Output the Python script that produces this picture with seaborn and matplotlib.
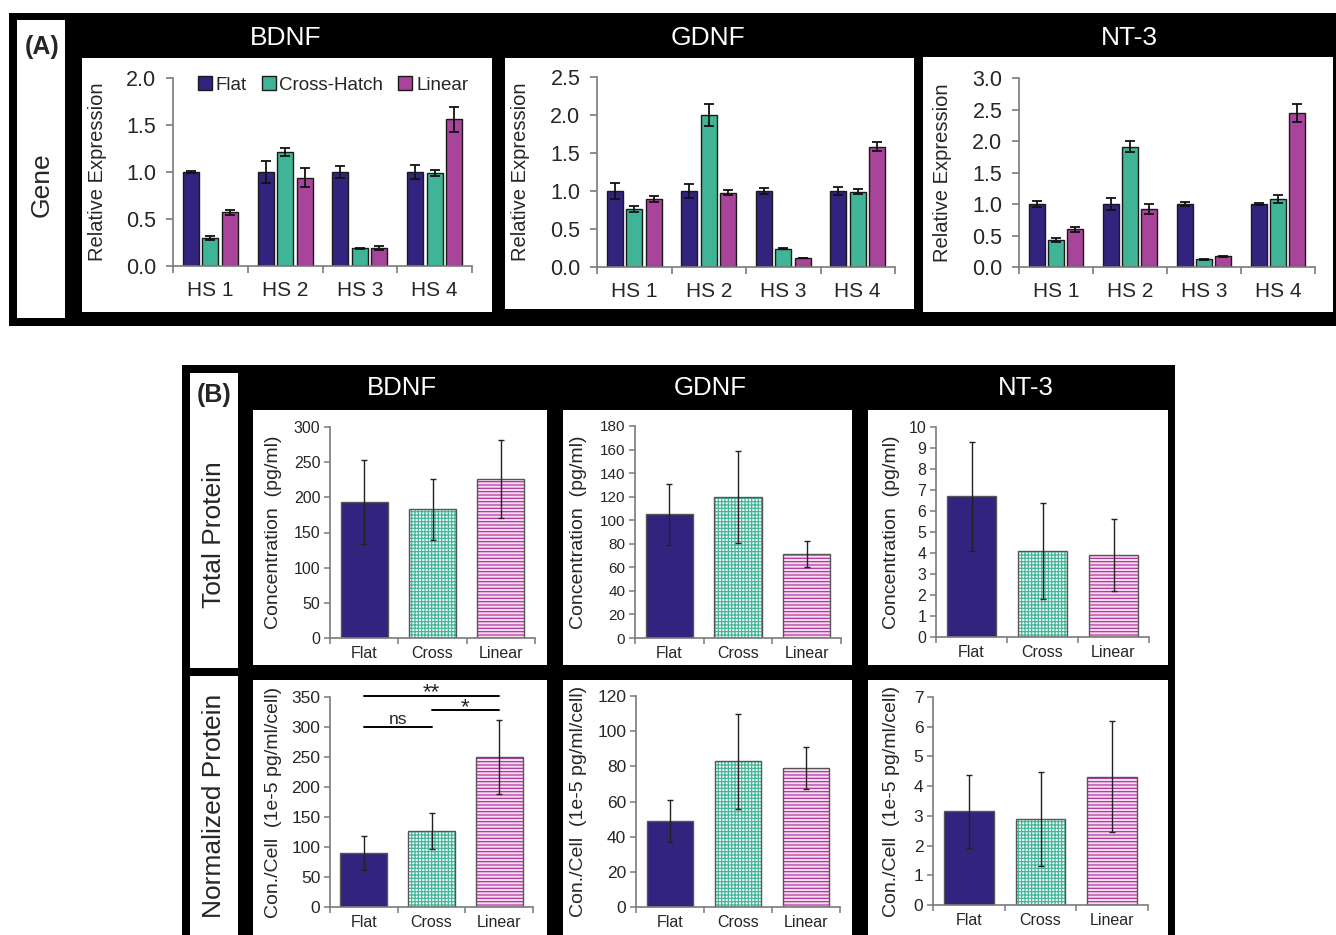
import numpy as np
import pandas as pd
import matplotlib
matplotlib.use("Agg")
import matplotlib.pyplot as plt
import seaborn as sns
from matplotlib.patches import Rectangle

sns.set_style("ticks")
plt.rcParams["font.family"] = ["Liberation Sans", "DejaVu Sans"]
plt.rcParams["hatch.linewidth"] = 0.85

# ---------------- data ----------------
hs_groups = ["HS 1", "HS 2", "HS 3", "HS 4"]
gene_conditions = ["Flat", "Cross-Hatch", "Linear"]
gene_factors = ["BDNF", "GDNF", "NT-3"]

bdnf_gene_flat = [1.00, 1.00, 1.00, 1.00]
bdnf_gene_flat_err = [0.01, 0.12, 0.06, 0.07]
bdnf_gene_cross = [0.30, 1.21, 0.19, 0.99]
bdnf_gene_cross_err = [0.02, 0.04, 0.005, 0.03]
bdnf_gene_linear = [0.57, 0.94, 0.19, 1.56]
bdnf_gene_linear_err = [0.03, 0.10, 0.02, 0.13]

gdnf_gene_flat = [1.00, 1.00, 1.00, 1.00]
gdnf_gene_flat_err = [0.10, 0.09, 0.04, 0.05]
gdnf_gene_cross = [0.76, 2.00, 0.24, 0.99]
gdnf_gene_cross_err = [0.04, 0.14, 0.005, 0.03]
gdnf_gene_linear = [0.90, 0.98, 0.12, 1.58]
gdnf_gene_linear_err = [0.04, 0.03, 0.005, 0.06]

nt3_gene_flat = [1.00, 1.00, 1.00, 1.00]
nt3_gene_flat_err = [0.05, 0.09, 0.03, 0.01]
nt3_gene_cross = [0.43, 1.91, 0.12, 1.08]
nt3_gene_cross_err = [0.03, 0.09, 0.005, 0.07]
nt3_gene_linear = [0.60, 0.92, 0.17, 2.44]
nt3_gene_linear_err = [0.04, 0.08, 0.005, 0.14]

protein_conditions = ["Flat", "Cross", "Linear"]
bdnf_total = [193, 183, 226]
bdnf_total_err = [60, 43, 55]
gdnf_total = [105, 120, 71]
gdnf_total_err = [26, 39, 11]
nt3_total = [6.7, 4.1, 3.9]
nt3_total_err = [2.6, 2.3, 1.7]

bdnf_norm = [90, 127, 250]
bdnf_norm_err = [28, 30, 62]
gdnf_norm = [49, 83, 79]
gdnf_norm_err = [12, 27, 12]
nt3_norm = [3.15, 2.88, 4.32]
nt3_norm_err = [1.22, 1.58, 1.88]

# significance (i, j, label, y) for BDNF normalized
bdnf_sig = [(0, 2, "**", 352), (1, 2, "*", 328), (0, 1, "ns", 300)]

# ---------------- style ----------------
C_FLAT = "#32237f"
C_CROSS = "#3fb497"
C_LIN = "#a8449a"
SPINE = "#7a7a7a"

W, H = 1336, 935
fig = plt.figure(figsize=(W / 100, H / 100), dpi=100)
fig.patch.set_facecolor("white")


def fx(x):
    return x / W


def fy(y):
    return 1 - y / H


def box(x0, y0, x1, y1, color, z=-2):
    fig.add_artist(Rectangle((fx(x0), fy(y1)), (x1 - x0) / W, (y1 - y0) / H,
                             transform=fig.transFigure, facecolor=color,
                             edgecolor="none", zorder=z))


def axes_px(l, t, r, b):
    ax = fig.add_axes([fx(l), fy(b), (r - l) / W, (b - t) / H])
    ax.set_facecolor("none")
    return ax


def style_spines(ax):
    for s in ["top", "right"]:
        ax.spines[s].set_visible(False)
    for s in ["left", "bottom"]:
        ax.spines[s].set_color(SPINE)
        ax.spines[s].set_linewidth(1.2)


# ---------------- backgrounds ----------------
box(9, 13, 1336, 326, "black")
box(17, 20, 65, 318, "white", -1)
box(82, 58, 492, 312, "white", -1)
box(505, 58, 914, 309, "white", -1)
box(923, 57, 1333, 312, "white", -1)

box(182, 365, 1175, 935, "black")
box(190, 373, 238, 668, "white", -1)
box(190, 676, 238, 935, "white", -1)
for (x0, x1) in [(253, 547), (563, 852), (868, 1168)]:
    box(x0, 410, x1, 665, "white", -1)
    box(x0, 680, x1, 935, "white", -1)

# ---------------- texts ----------------
fig.text(fx(42), fy(47), "(A)", fontsize=18, fontweight="bold", ha="center", va="center")
fig.text(fx(42), fy(185), "Gene", fontsize=19, rotation=90, ha="center", va="center")
fig.text(fx(214), fy(395), "(B)", fontsize=18, fontweight="bold", ha="center", va="center")
fig.text(fx(214), fy(535), "Total Protein", fontsize=19, rotation=90, ha="center", va="center")
fig.text(fx(214), fy(806), "Normalized Protein", fontsize=19, rotation=90, ha="center", va="center")
for name, x in zip(gene_factors, [286, 708, 1129]):
    fig.text(fx(x), fy(38), name, fontsize=19, color="white", ha="center", va="center")
for name, x in zip(gene_factors, [402, 710, 1026]):
    fig.text(fx(x), fy(388), name, fontsize=18.5, color="white", ha="center", va="center")

# ---------------- panel A ----------------
gene_sets = [
    ([bdnf_gene_flat, bdnf_gene_cross, bdnf_gene_linear],
     [bdnf_gene_flat_err, bdnf_gene_cross_err, bdnf_gene_linear_err], 2.0, (173, 78, 472, 266), -0.22),
    ([gdnf_gene_flat, gdnf_gene_cross, gdnf_gene_linear],
     [gdnf_gene_flat_err, gdnf_gene_cross_err, gdnf_gene_linear_err], 2.5, (597, 77, 895, 267), -0.225),
    ([nt3_gene_flat, nt3_gene_cross, nt3_gene_linear],
     [nt3_gene_flat_err, nt3_gene_cross_err, nt3_gene_linear_err], 3.0, (1019, 78, 1315, 267), -0.226),
]

for k, (vals, errs, ymax, pos, labx) in enumerate(gene_sets):
    ax = axes_px(*pos)
    rows = []
    for cond, v in zip(gene_conditions, vals):
        for g, val in zip(hs_groups, v):
            rows.append({"group": g, "cond": cond, "value": val})
    df = pd.DataFrame(rows)
    sns.barplot(data=df, x="group", y="value", hue="cond", order=hs_groups,
                hue_order=gene_conditions, palette=[C_FLAT, C_CROSS, C_LIN],
                errorbar=None, width=0.78, gap=0.18, edgecolor="#1a1a1a",
                linewidth=1.0, saturation=1, ax=ax, legend=False)
    for cont, e in zip(ax.containers, errs):
        xs = [p.get_x() + p.get_width() / 2 for p in cont]
        hs = [p.get_height() for p in cont]
        ax.errorbar(xs, hs, yerr=e, fmt="none", ecolor="#111111",
                    elinewidth=1.3, capsize=3.5, capthick=1.3, zorder=5)
    style_spines(ax)
    ax.set_xlim(-0.5, 3.5)
    ax.set_ylim(0, ymax)
    ax.set_xticks(np.arange(-0.5, 4.0, 1.0), labels=[])
    ax.set_xticks(range(4), labels=hs_groups, minor=True)
    ax.tick_params(axis="x", which="major", length=5, width=1.2, color=SPINE)
    ax.tick_params(axis="x", which="minor", length=0, labelsize=15, pad=11)
    ax.set_yticks(np.arange(0, ymax + 0.01, 0.5))
    ax.set_yticklabels([f"{t:.1f}" for t in np.arange(0, ymax + 0.01, 0.5)])
    ax.tick_params(axis="y", length=5, width=1.2, color=SPINE, labelsize=15.5, pad=7)
    ax.set_xlabel("")
    ax.set_ylabel("Relative Expression", fontsize=14.5)
    ax.yaxis.set_label_coords(labx, 0.5)
    if k == 0:
        ax.legend(handles=list(ax.containers), labels=gene_conditions,
                  loc="center", bbox_to_anchor=(0.535, 0.963), ncol=3,
                  frameon=False, fontsize=13.5, handlelength=0.75,
                  handleheight=0.75, handletextpad=0.2, columnspacing=0.8,
                  borderaxespad=0, borderpad=0)

# ---------------- panel B ----------------
prot_sets = [
    (bdnf_total, bdnf_total_err, 300, 50, (330, 427, 535, 638), -0.234,
     "Concentration  (pg/ml)", 11.5, None),
    (gdnf_total, gdnf_total_err, 180, 20, (635, 426, 841, 638), -0.233,
     "Concentration  (pg/ml)", 11, None),
    (nt3_total, nt3_total_err, 10, 1, (936, 427, 1149, 637), -0.169,
     "Concentration  (pg/ml)", 11.5, None),
    (bdnf_norm, bdnf_norm_err, 350, 50, (330, 697, 533, 907), -0.234,
     "Con./Cell  (1e-5 pg/ml/cell)", 12.5, bdnf_sig),
    (gdnf_norm, gdnf_norm_err, 120, 20, (636, 696, 840, 907), -0.24,
     "Con./Cell  (1e-5 pg/ml/cell)", 12.5, None),
    (nt3_norm, nt3_norm_err, 7, 1, (933, 697, 1148, 905), -0.153,
     "Con./Cell  (1e-5 pg/ml/cell)", 12.5, None),
]

for vals, errs, ymax, step, pos, labx, ylab, tsize, sig in prot_sets:
    ax = axes_px(*pos)
    df = pd.DataFrame({"cond": protein_conditions, "value": vals})
    sns.barplot(data=df, x="cond", y="value", hue="cond", order=protein_conditions,
                hue_order=protein_conditions, palette=[C_FLAT, "#f4fbf9", "#f6dcf0"],
                errorbar=None, width=0.69, edgecolor="#555555", linewidth=1.0,
                saturation=1, ax=ax, legend=False)
    bars = [c[0] for c in ax.containers]
    # hatched bars
    for p, hcol, hatch in [(bars[1], C_CROSS, "+" * 5), (bars[2], "#b02e9d", "-" * 5)]:
        p.set_hatch(hatch)
        p.set_edgecolor(hcol)
        p.set_linewidth(0)
        ax.add_patch(Rectangle(p.get_xy(), p.get_width(), p.get_height(),
                               fill=False, edgecolor="#555555", linewidth=1.0,
                               zorder=p.get_zorder() + 0.1))
    xs = [p.get_x() + p.get_width() / 2 for p in bars]
    hs = [p.get_height() for p in bars]
    ax.errorbar(xs, hs, yerr=errs, fmt="none", ecolor="#222222",
                elinewidth=1.0, capsize=2, capthick=1.0, zorder=5)
    if sig:
        for i, j, lab, yv in sig:
            ax.plot([xs[i], xs[j]], [yv, yv], color="black", lw=1.4, clip_on=False)
            if "*" in lab:
                ax.annotate(lab, xy=((xs[i] + xs[j]) / 2, yv), xytext=(0, -2),
                            textcoords="offset points", ha="center",
                            va="baseline", fontsize=16, annotation_clip=False)
            else:
                ax.annotate(lab, xy=((xs[i] + xs[j]) / 2, yv), xytext=(0, 2.5),
                            textcoords="offset points", ha="center",
                            va="baseline", fontsize=12.5, annotation_clip=False)
    style_spines(ax)
    ax.set_xlim(-0.5, 2.5)
    ax.set_ylim(0, ymax)
    ax.set_xticks(np.arange(-0.5, 3.0, 1.0), labels=[])
    ax.set_xticks(range(3), labels=protein_conditions, minor=True)
    ax.tick_params(axis="x", which="major", length=4, width=1.1, color=SPINE)
    ax.tick_params(axis="x", which="minor", length=0, labelsize=11.5, pad=6)
    ax.set_yticks(np.arange(0, ymax + 0.001, step))
    ax.tick_params(axis="y", length=4, width=1.1, color=SPINE, labelsize=tsize, pad=3)
    ax.set_xlabel("")
    ax.set_ylabel(ylab, fontsize=14)
    ax.yaxis.set_label_coords(labx, 0.5)

fig.savefig("out.png", dpi=100, facecolor="white")
